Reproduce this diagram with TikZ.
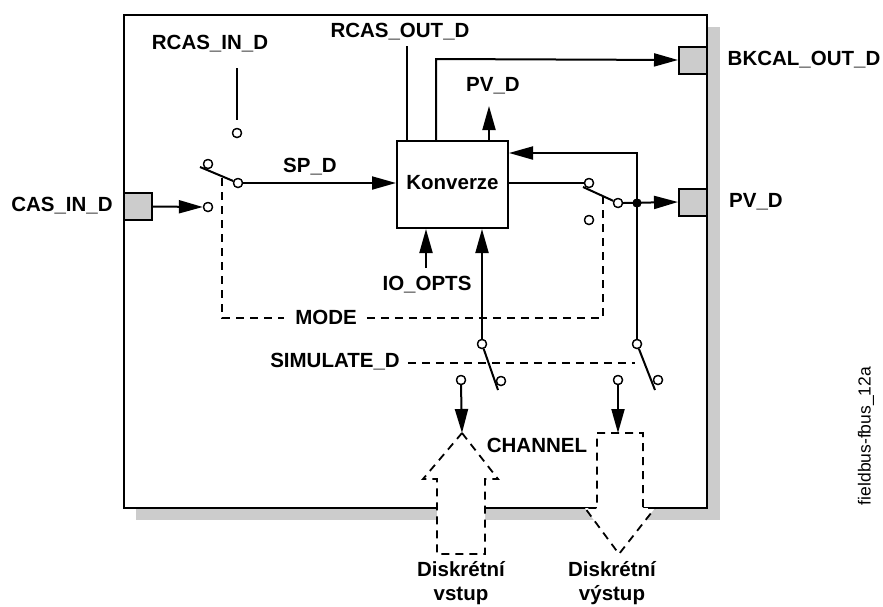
\documentclass[tikz,border=0pt]{standalone}
\usepackage{fontspec}
\setmainfont{Liberation Sans}
\usetikzlibrary{arrows.meta,calc}
\begin{document}
\begin{tikzpicture}[x=1pt,y=-1pt,
  lbl/.style={font=\fontsize{20.5}{23}\selectfont\bfseries, inner sep=0pt},
  wire/.style={line width=2pt},
  arr/.style={wire,-{Triangle[length=24pt,width=13pt]}},
  term/.style={circle,draw,fill=white,line width=1.3pt,inner sep=0pt,minimum size=9pt},
  port/.style={draw,fill=black!20,line width=2pt,minimum width=28pt,minimum height=27pt,inner sep=0pt},
  dsh/.style={line width=1.3pt,dash pattern=on 8pt off 6pt},
  bigarr/.style={line width=1.8pt,dash pattern=on 8pt off 6pt,fill=white,line join=miter},
  dot/.style={circle,fill=black,inner sep=0pt,minimum size=9pt}
]
\useasboundingbox (0,0) rectangle (883,606);
% shadow and block
\fill[black!20] (136,27) rectangle (720,520);
\draw[line width=2pt,fill=white] (124,15) rectangle (707,508);
% dashed big arrows
\draw[bigarr] (462,433) -- (498,479) -- (485,479) -- (485,554) -- (437,554) -- (437,479) -- (423,479) -- cycle;
\draw[bigarr] (597,433) -- (643,433) -- (643,508) -- (655,508) -- (619,554) -- (585,508) -- (597,508) -- cycle;
% nodes
\node[draw,line width=2pt,minimum width=111pt,minimum height=87pt,inner sep=0pt,fill=white] (conv) at (452.5,184.5) {};
\node[lbl] at (452.5,183) {Konverze};
\node[port] (cas) at (138,206.5) {};
\node[port] (bk) at (693,60) {};
\node[port] (pv) at (693,202) {};
\node[lbl] (lcas) at (62,206) {CAS\_IN\_D};
\node[lbl] (lbk) at (804,60) {BKCAL\_OUT\_D};
\node[lbl] (lpv) at (756,202) {PV\_D};
\node[lbl] (lrin) at (210,44) {RCAS\_IN\_D};
\node[lbl] (lrout) at (400,32) {RCAS\_OUT\_D};
\node[lbl] (lpvd) at (493,86) {PV\_D};
\node[lbl] (lsp) at (310,167) {SP\_D};
\node[lbl] (lio) at (427,285) {IO\_OPTS};
\node[lbl] (lmode) at (326,317) {MODE};
\node[lbl] (lsim) at (335,362) {SIMULATE\_D};
\node[lbl] (lch) at (537,445) {CHANNEL};
\node[lbl,align=center] (ldin) at (461,583) {Diskrétní\\[1pt]vstup};
\node[lbl,align=center] (ldout) at (612,583) {Diskrétní\\[1pt]výstup};
\node[font=\fontsize{17.5}{19}\selectfont,rotate=90,inner sep=0pt] (fig) at (866,436) {fieldbus-fbus\_12a};
% coordinates
\coordinate (rinTop) at (237,68);
\coordinate (rinBot) at (237,120);
\coordinate (rcoTop) at (407,46);
\coordinate (bkx) at (436,59);
\coordinate (pvTop) at (489,106);
\coordinate (ioBot) at (426,268);
\coordinate (fbY) at (637,153);
\coordinate (lev1) at (200,167);
\coordinate (lev2) at (583,187);
\coordinate (lev3) at (498,390);
\coordinate (lev4) at (655,390);
% terminals
\node[term] (t1) at (237,133) {};
\node[term] (t2) at (208,164) {};
\node[term] (t3) at (238,183) {};
\node[term] (t4) at (208,207) {};
\node[term] (r1) at (589,183) {};
\node[term] (r2) at (618,203) {};
\node[term] (r3) at (589,220) {};
\node[dot] (j) at (637,203) {};
\node[term] (s1) at (482,344) {};
\node[term] (s2) at (501,381) {};
\node[term] (s3) at (461,380) {};
\node[term] (u1) at (637,344) {};
\node[term] (u2) at (658,380) {};
\node[term] (u3) at (618,380) {};
\coordinate (dinTip) at (462,433);
\coordinate (doutTop) at (618,433);
% dashed mode / simulate lines
\draw[dsh] (222,178) -- (222,318) -- ([xshift=-11pt]lmode.west |- 0,318);
\draw[dsh] ([xshift=10pt]lmode.east |- 0,318) -- (603,318) -- (603,197);
\draw[dsh] ([xshift=8pt]lsim.east |- 0,363) -- (635,363);
% wires
\draw[wire] (rinTop) -- (rinBot);
\draw[wire] (rcoTop) -- (conv.north -| rcoTop);
\draw[arr] (conv.north -| bkx) -- (bkx) -- (bk.west);
\draw[arr] (conv.north -| pvTop) -- (pvTop);
\draw[arr] (cas.east) -- (t4.west);
\draw[arr] (t3.east) -- (conv.west |- t3);
\draw[wire] (t3) -- (lev1);
\draw[wire] (conv.east |- r1) -- (r1.west);
\draw[wire] (r2) -- (lev2);
\draw[arr] (r2.east) -- (pv.west);
\draw[arr] (j.center) -- (fbY) -- (conv.east |- fbY);
\draw[wire] (j.center) -- (u1.north);
\draw[arr] (ioBot) -- (conv.south -| ioBot);
\draw[arr] (s1.north) -- (conv.south -| s1);
\draw[wire] (s1) -- (lev3);
\draw[wire] (u1) -- (lev4);
\draw[arr] (s3.south) -- (dinTip);
\draw[arr] (u3.south) -- (doutTop);
% redraw terminals on top
\foreach \n in {t1,t2,t3,t4,r1,r2,r3,s1,s2,s3,u1,u2,u3} {\node[term] at (\n) {};}
\node[dot] at (j) {};
\end{tikzpicture}
\end{document}
